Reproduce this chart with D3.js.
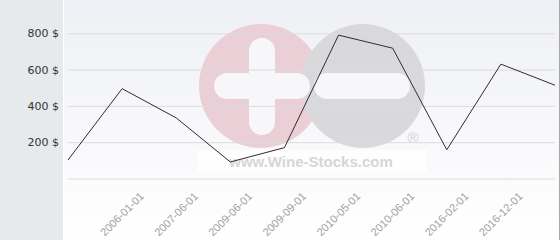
<!DOCTYPE html>
<html><head><meta charset="utf-8">
<script src="https://cdn.jsdelivr.net/npm/d3@7"></script>
<style>html,body{margin:0;padding:0;background:#fff;}svg{display:block;}</style>
</head><body>
<script>
const categories = ["", "2006-01-01", "2007-06-01", "2009-06-01", "2009-09-01", "2010-05-01", "2010-06-01", "2016-02-01", "2016-12-01", ""];
const values = [102, 495, 334, 91, 170, 790, 718, 158, 630, 514];
const yTicks = [200, 400, 600, 800];
const yTickFormat = d => d + " $";

const W = 560, H = 240;
const svg = d3.select("body").append("svg").attr("width", W).attr("height", H);
const defs = svg.append("defs");
const grad = defs.append("linearGradient").attr("id", "bg").attr("x1", 0).attr("y1", 0).attr("x2", 0).attr("y2", 1);
grad.append("stop").attr("offset", "0%").attr("stop-color", "#eff0f5");
grad.append("stop").attr("offset", "100%").attr("stop-color", "#ffffff");

// backgrounds
svg.append("rect").attr("x", 0).attr("y", 0).attr("width", 63).attr("height", H).attr("fill", "#e6eaed");
svg.append("rect").attr("x", 64).attr("y", 0).attr("width", 495).attr("height", H).attr("fill", "url(#bg)");
svg.append("rect").attr("x", 559).attr("y", 0).attr("width", 1).attr("height", H).attr("fill", "#a8a8a8");

const x = d3.scalePoint().domain(d3.range(values.length)).range([68, 555]);
const y = d3.scaleLinear().domain([0, 800]).range([178.5, 33.3]);

// watermark
const wm = svg.append("g");
wm.append("rect").attr("x", 197).attr("y", 150).attr("width", 230).attr("height", 23).attr("fill", "#ffffff").attr("opacity", 0.7);
wm.append("circle").attr("cx", 261).attr("cy", 86).attr("r", 62).attr("fill", "#eacfd6");
wm.append("circle").attr("cx", 363).attr("cy", 86).attr("r", 62).attr("fill", "#d9d9db");
wm.append("rect").attr("x", 249).attr("y", 38).attr("width", 26).attr("height", 97).attr("rx", 13).attr("fill", "#f7f7fa");
wm.append("rect").attr("x", 214).attr("y", 73).attr("width", 96).attr("height", 26).attr("rx", 13).attr("fill", "#f7f7fa");
wm.append("rect").attr("x", 314).attr("y", 73).attr("width", 96).attr("height", 26).attr("rx", 13).attr("fill", "#f7f7fa");
wm.append("text").attr("x", 311).attr("y", 167).attr("text-anchor", "middle")
  .attr("font-family", "Liberation Sans, Arial, sans-serif").attr("font-weight", "bold").attr("font-size", 15)
  .attr("fill", "#d6d6d8").text("www.Wine-Stocks.com");
wm.append("text").attr("x", 413).attr("y", 143).attr("text-anchor", "middle")
  .attr("font-family", "Liberation Sans, Arial, sans-serif").attr("font-size", 15)
  .attr("fill", "#d0d0d2").text("®");

// gridlines
const yAxis = d3.axisLeft(y).tickValues([0, ...yTicks]).tickSize(-(555 - 68)).tickFormat(d => d === 0 ? "" : yTickFormat(d)).tickPadding(9);
const gy = svg.append("g").attr("transform", "translate(68,0)").call(yAxis);
gy.select(".domain").remove();
gy.selectAll(".tick line").attr("stroke", "#dcdcdf").attr("stroke-width", 1);
gy.selectAll(".tick text").attr("fill", "#333").attr("font-family", "DejaVu Sans, Verdana, sans-serif").attr("font-size", 11).attr("x", -9);

// line
const line = d3.line().x((d, i) => x(i)).y(d => y(d));
svg.append("path").datum(values).attr("d", line).attr("fill", "none").attr("stroke", "#3a2630").attr("stroke-width", 1);

// x labels
const xAxis = d3.axisBottom(x).tickValues(d3.range(1, categories.length - 1)).tickFormat(i => categories[i]).tickSize(0);
const gx = svg.append("g").attr("transform", "translate(0,0)").call(xAxis);
gx.select(".domain").remove();
gx.selectAll(".tick text")
  .attr("fill", "#a0a0a0").attr("font-family", "Liberation Sans, Arial, sans-serif").attr("font-size", 11)
  .attr("text-anchor", "end").attr("dy", 0).attr("y", 0)
  .attr("transform", "translate(22,197) rotate(-45)");
</script>
</body></html>
